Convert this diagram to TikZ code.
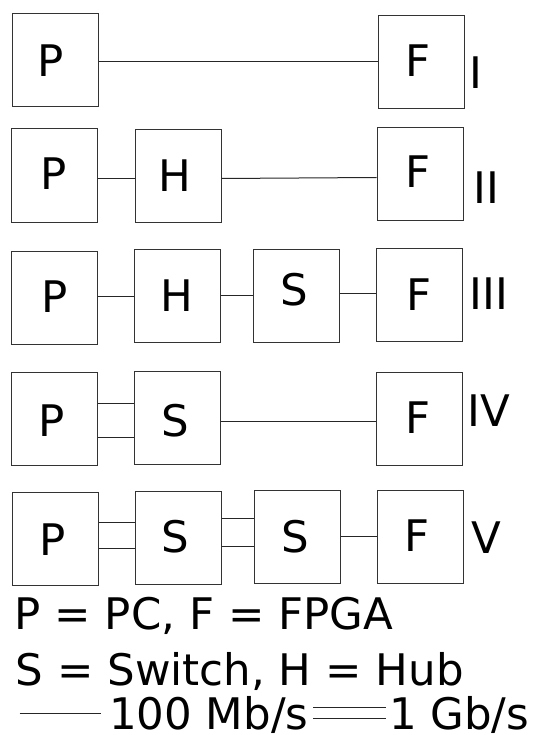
\documentclass[tikz,border=0pt]{standalone}
\usepackage{fontspec}
\setmainfont{DejaVu Sans}
\tikzset{
  box/.style={draw=black!80, line width=1pt, rectangle, inner sep=0pt, minimum width=86pt, minimum height=93pt},
  letter/.style={font=\fontsize{43.5}{50}\selectfont, anchor=base, inner sep=0pt},
  legend/.style={font=\fontsize{43.5}{50}\selectfont, anchor=base west, inner sep=0pt},
  wire/.style={draw=black!85, line width=1pt}
}
\begin{document}
\begin{tikzpicture}[x=1pt,y=-1pt]
\useasboundingbox (0,0) rectangle (532,735);
% Row I
\node[box] (p1) at (55.2,59.8) {};
\node[box] (f1) at (421.3,61.6) {};
\node[letter] (p1t) at (50.4,76.3) {P};
\node[letter] (f1t) at (418,76.3) {F};
\node[letter] (r1) at (476,88.6) {I};
\draw[wire] (p1.east |- 0,62) -- (f1.west |- 0,62);
% Row II
\node[box] (p2) at (54.5,175.5) {};
\node[box] (h2) at (178,175.9) {};
\node[box] (f2) at (420,174.2) {};
\node[letter] (p2t) at (54,189.3) {P};
\node[letter] (h2t) at (175,191.7) {H};
\node[letter] (f2t) at (418,187.7) {F};
\node[letter] (r2) at (486,204) {II};
\draw[wire] (p2.east |- 0,178.3) -- (h2.west |- 0,178.3);
\draw[wire] (h2.east |- 0,178.5) -- (f2.west |- 0,177.5);
% Row III
\node[box] (p3) at (54.6,297.9) {};
\node[box] (h3) at (177,296.4) {};
\node[box] (s3) at (296.3,295.5) {};
\node[box] (f3) at (419.5,294.9) {};
\node[letter] (p3t) at (54.6,312.3) {P};
\node[letter] (h3t) at (176.5,311.7) {H};
\node[letter] (s3t) at (294,305.5) {S};
\node[letter] (f3t) at (419,310.7) {F};
\node[letter] (r3) at (489,309) {III};
\draw[wire] (p3.east |- 0,296) -- (h3.west |- 0,296);
\draw[wire] (h3.east |- 0,295) -- (s3.west |- 0,295);
\draw[wire] (s3.east |- 0,293.5) -- (f3.west |- 0,293.5);
% Row IV
\node[box] (p4) at (54.5,419.2) {};
\node[box] (s4) at (177,418.3) {};
\node[box] (f4) at (419.1,419.4) {};
\node[letter] (p4t) at (52,436.7) {P};
\node[letter] (s4t) at (175,436.3) {S};
\node[letter] (f4t) at (418,433) {F};
\node[letter] (r4) at (488.6,426) {IV};
\draw[wire] (p4.east |- 0,403.3) -- (s4.west |- 0,403.3);
\draw[wire] (p4.east |- 0,437.7) -- (s4.west |- 0,437.7);
\draw[wire] (s4.east |- 0,421) -- (f4.west |- 0,421);
% Row V
\node[box] (p5) at (55.5,539.4) {};
\node[box] (s5a) at (178,537.5) {};
\node[box] (s5b) at (297.5,536.5) {};
\node[box] (f5) at (420.9,537.2) {};
\node[letter] (p5t) at (52.3,555.3) {P};
\node[letter] (s5at) at (175.5,552.5) {S};
\node[letter] (s5bt) at (295,552.5) {S};
\node[letter] (f5t) at (417,551) {F};
\node[letter] (r5) at (486.6,553) {V};
\draw[wire] (p5.east |- 0,522.4) -- (s5a.west |- 0,522.4);
\draw[wire] (p5.east |- 0,548.9) -- (s5a.west |- 0,548.9);
\draw[wire] (s5a.east |- 0,518.3) -- (s5b.west |- 0,518.3);
\draw[wire] (s5a.east |- 0,546) -- (s5b.west |- 0,546);
\draw[wire] (s5b.east |- 0,536.3) -- (f5.west |- 0,536.3);
% Legend
\node[legend] (lg1) at (14.4,629.7) {P = PC, F = FPGA};
\node[legend] (lg2) at (15.5,685) {S = Switch, H = Hub};
\node[legend] (lg3) at (109,729.5) {100 Mb/s};
\node[legend] (lg4) at (388.8,729.5) {1 Gb/s};
\coordinate (la) at (19.7,713);
\coordinate (lb) at (101,713);
\coordinate (lc) at (313,707.5);
\coordinate (ld) at (385.8,707.5);
\coordinate (le) at (313,718.5);
\coordinate (lf) at (385.8,718.5);
\draw[wire] (la) -- (lb);
\draw[wire] (lc) -- (ld);
\draw[wire] (le) -- (lf);
\end{tikzpicture}
\end{document}
